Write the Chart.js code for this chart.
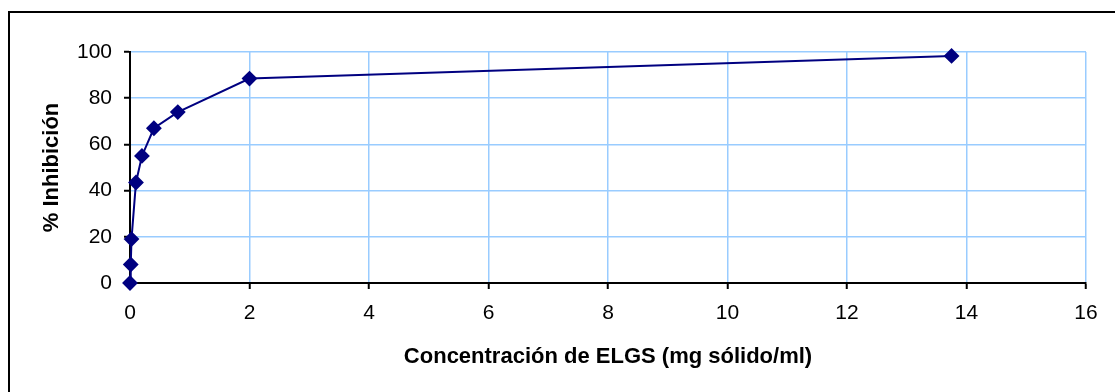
<!DOCTYPE html>
<html>
<head>
<meta charset="utf-8">
<script src="https://cdn.jsdelivr.net/npm/chart.js@4.4.0/dist/chart.umd.min.js"></script>
<style>
  html, body { margin: 0; padding: 0; background: #fff; overflow: hidden; }
  #wrap { position: relative; width: 1115px; height: 392px; }
  #frame { position: absolute; left: 8px; top: 11px; width: 1200px; height: 500px; border: 2px solid #000; }
  canvas { position: absolute; left: 0; top: 0; }
</style>
</head>
<body>
<div id="wrap">
  <div id="frame"></div>
  <canvas id="chart" width="1115" height="392"></canvas>
</div>
<script>
// concentracion (mg solido/ml) vs % inhibicion
var concentracion = [0, 0.0125, 0.025, 0.1, 0.2, 0.4, 0.8, 2, 13.75];
var inhibicion = [0, 8, 19, 43.5, 55, 67, 74, 88.5, 98.3];
var xTicks = [0, 2, 4, 6, 8, 10, 12, 14, 16];
var yTicks = [0, 20, 40, 60, 80, 100];

var puntos = concentracion.map(function(x, i){
  return { x: x, y: inhibicion[i] };
});

var gridBlue = '#99ccff';
var navy = '#000080';

new Chart(document.getElementById('chart').getContext('2d'), {
  type: 'scatter',
  data: {
    datasets: [{
      label: '% Inhibición',
      data: puntos,
      showLine: true,
      borderColor: navy,
      backgroundColor: navy,
      borderWidth: 2,
      pointStyle: 'rectRot',
      pointRadius: 6.5,
      pointHoverRadius: 6.5,
      clip: false
    }]
  },
  options: {
    responsive: false,
    animation: false,
    layout: { padding: { top: 52, right: 29, left: 39, bottom: 22 } },
    plugins: {
      legend: { display: false },
      tooltip: { enabled: false }
    },
    scales: {
      x: {
        type: 'linear',
        min: xTicks[0],
        max: xTicks[xTicks.length - 1],
        afterBuildTicks: function(scale){
          scale.ticks = xTicks.map(function(v){ return { value: v }; });
        },
        afterFit: function(scale){ scale.height = 87; },
        grid: { color: gridBlue, lineWidth: 1.5, tickColor: '#000', tickWidth: 2, tickLength: 6 },
        border: { color: '#000', width: 2 },
        ticks: { color: '#000', padding: 12, maxRotation: 0, font: { family: 'Liberation Sans, Arial', size: 21 } },
        title: {
          display: true,
          text: 'Concentración de ELGS (mg sólido/ml)',
          color: '#000',
          padding: 0,
          font: { family: 'Liberation Sans, Arial', size: 22, weight: 'bold' }
        }
      },
      y: {
        min: yTicks[0],
        max: yTicks[yTicks.length - 1],
        afterBuildTicks: function(scale){
          scale.ticks = yTicks.map(function(v){ return { value: v }; });
        },
        afterFit: function(scale){ scale.width = 91; },
        grid: { color: gridBlue, lineWidth: 1.5, tickColor: '#000', tickWidth: 2, tickLength: 6 },
        border: { color: '#000', width: 2 },
        ticks: { color: '#000', padding: 12, font: { family: 'Liberation Sans, Arial', size: 21 } },
        title: {
          display: true,
          text: '% Inhibición',
          color: '#000',
          padding: 0,
          font: { family: 'Liberation Sans, Arial', size: 22, weight: 'bold' }
        }
      }
    }
  }
});
</script>
</body>
</html>
